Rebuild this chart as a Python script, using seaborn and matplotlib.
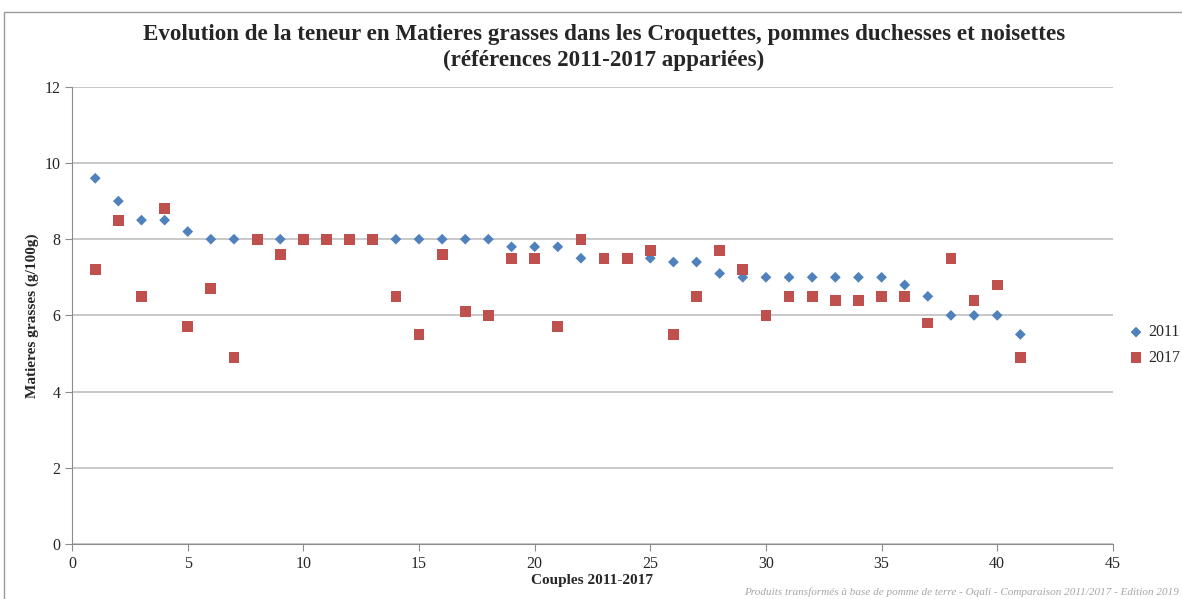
import pandas as pd
import matplotlib.pyplot as plt
import matplotlib.patches as mpatches
import seaborn as sns

# Couples 2011-2017 (matched references)
couples = list(range(1, 42))

fat_2011 = [9.6, 9.0, 8.5, 8.5, 8.2, 8.0, 8.0, 8.0, 8.0, 8.0,
            8.0, 8.0, 8.0, 8.0, 8.0, 8.0, 8.0, 8.0, 7.8, 7.8,
            7.8, 7.5, 7.5, 7.5, 7.5, 7.4, 7.4, 7.1, 7.0, 7.0,
            7.0, 7.0, 7.0, 7.0, 7.0, 6.8, 6.5, 6.0, 6.0, 6.0,
            5.5]

fat_2017 = [7.2, 8.5, 6.5, 8.8, 5.7, 6.7, 4.9, 8.0, 7.6, 8.0,
            8.0, 8.0, 8.0, 6.5, 5.5, 7.6, 6.1, 6.0, 7.5, 7.5,
            5.7, 8.0, 7.5, 7.5, 7.7, 5.5, 6.5, 7.7, 7.2, 6.0,
            6.5, 6.5, 6.4, 6.4, 6.5, 6.5, 5.8, 7.5, 6.4, 6.8,
            4.9]

years = ["2011", "2017"]
colors = {"2011": "#4F81BD", "2017": "#C0504D"}

df = pd.concat([
    pd.DataFrame({"couple": couples, "value": fat_2011, "year": "2011"}),
    pd.DataFrame({"couple": couples, "value": fat_2017, "year": "2017"}),
], ignore_index=True)

sns.set_style("white")
plt.rcParams["font.family"] = ["Liberation Serif", "DejaVu Serif"]

fig = plt.figure(figsize=(11.82, 5.99), dpi=100)
ax = fig.add_axes([0.061, 0.092, 0.8805, 0.763])

# outer frame of the chart
fig.patches.append(mpatches.Rectangle((0.0035, -0.1), 1.2, 1.08, transform=fig.transFigure,
                                      fill=False, edgecolor="#9a9a9a", linewidth=1.0))

sns.scatterplot(data=df[df["year"] == "2011"], x="couple", y="value", ax=ax,
                color=colors["2011"], marker="D", s=30, edgecolor="none", label="2011", zorder=3)
sns.scatterplot(data=df[df["year"] == "2017"], x="couple", y="value", ax=ax,
                color=colors["2017"], marker="s", s=60, edgecolor="none", label="2017", zorder=3)

ax.set_xlim(0, 45)
ax.set_ylim(0, 12)
ax.set_xticks(range(0, 46, 5))
ax.set_yticks(range(0, 13, 2))
ax.grid(axis="y", color="#bfbfbf", linewidth=1.2)
ax.set_axisbelow(True)
for s in ["top", "right"]:
    ax.spines[s].set_visible(False)
for s in ["left", "bottom"]:
    ax.spines[s].set_color("#8c8c8c")
ax.tick_params(axis="both", length=5, color="#8c8c8c", direction="out", labelsize=11.5,
               left=True, bottom=True)

ax.set_xlabel("Couples 2011-2017", fontsize=11, fontweight="bold", labelpad=2)
ax.set_ylabel("Matieres grasses (g/100g)", fontsize=11, fontweight="bold", labelpad=4)

fig.text(0.511, 0.921, "Evolution de la teneur en Matieres grasses dans les Croquettes, pommes duchesses et noisettes\n"
         "(références 2011-2017 appariées)", ha="center", va="center",
         fontsize=16.6, fontweight="bold", linespacing=1.3)

ax.legend(loc="center left", bbox_to_anchor=(1.0, 0.435), frameon=False, fontsize=11.5,
          handletextpad=0.0, borderaxespad=0.3, labelspacing=0.6, handlelength=1.5)

fig.text(0.997, 0.003, "Produits transformés à base de pomme de terre - Oqali - Comparaison 2011/2017 - Edition 2019",
         fontsize=8, color="#a6a6a6", style="italic", ha="right", va="bottom")

fig.savefig("out.png", dpi=100)
